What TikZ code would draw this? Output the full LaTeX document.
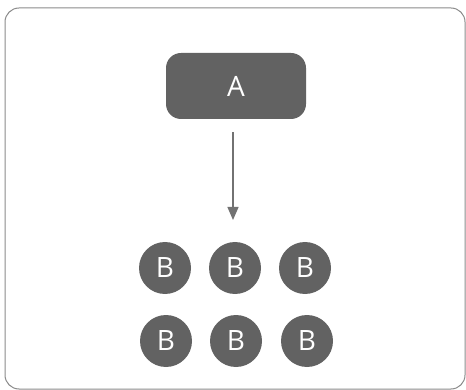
\documentclass[tikz,border=0pt]{standalone}
\usepackage{fontspec}
\setmainfont{Open Sans}
\usetikzlibrary{arrows.meta}
\definecolor{nodegray}{HTML}{626262}
\definecolor{framegray}{HTML}{8A8A8A}
\tikzset{
  frame/.style={draw=framegray, line width=1pt, rounded corners=14pt},
  boxA/.style={fill=nodegray, rounded corners=15pt, minimum width=140pt, minimum height=66pt, text=white, font=\fontsize{28}{28}\selectfont},
  circB/.style={circle, fill=nodegray, minimum size=52pt, inner sep=0pt, text=white, font=\fontsize{28}{28}\selectfont},
  conn/.style={draw=nodegray!90, line width=1.2pt, -{Triangle[length=13pt,width=11pt]}}
}
\begin{document}
\begin{tikzpicture}[x=1pt,y=-1pt]
\useasboundingbox (0,0) rectangle (466,390);
\draw[frame] (5,8) rectangle (465,389);
\node[boxA] (A) at (236,86) {A};
\node[circB] (b1) at (165,268) {B};
\node[circB] (b2) at (235,268) {B};
\node[circB] (b3) at (305,268) {B};
\node[circB] (b4) at (166,341) {B};
\node[circB] (b5) at (236,341) {B};
\node[circB] (b6) at (307,341) {B};
\coordinate (tip) at (233,220);
\draw[conn, shorten <=13pt] (A.south -| tip) -- (tip);
\end{tikzpicture}
\end{document}
